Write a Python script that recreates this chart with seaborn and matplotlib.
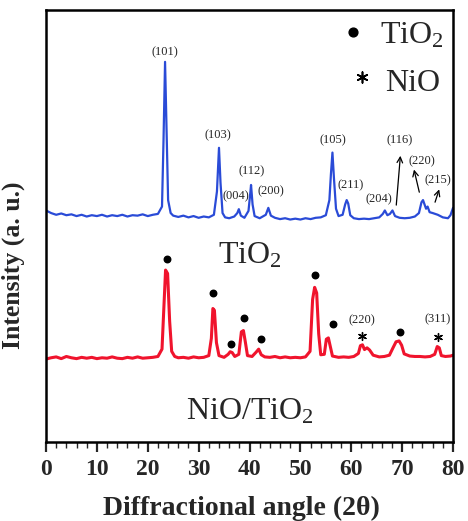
import numpy as np
import pandas as pd
import matplotlib
matplotlib.use("Agg")
import matplotlib.pyplot as plt
import seaborn as sns

# XRD traces (2theta, intensity in arbitrary units, offset)
tio2_x = [0, 1, 2, 3, 4, 5, 6, 7, 8, 9, 10, 11, 12, 13, 14, 15, 16, 17, 18, 19, 20, 21, 22,
          22.8, 23.1, 23.4, 23.7, 24.0, 24.5, 25, 26, 27, 28, 29, 30, 31, 32, 33,
          33.6, 34.0, 34.3, 34.7, 35.2, 36, 37, 37.6, 37.9, 38.3, 39,
          39.8, 40.1, 40.3, 40.6, 41.0, 42, 43.2, 43.7, 44.2, 45, 46, 47, 48, 49, 50,
          51, 52, 53, 54, 55, 55.7, 56.0, 56.3, 56.6, 57.0, 57.5, 58.3, 58.8, 59.1,
          59.4, 59.8, 60.5, 61.5, 62.5, 63.5, 64.5, 65.5, 66.2, 66.6, 67.1, 67.6, 68.1,
          68.6, 69.5, 70.5, 71.5, 72.5, 73.3, 73.8, 74.1, 74.4, 74.7, 75.0, 75.4, 76,
          77, 78, 79, 79.5, 80]
tio2_y = [53.6, 53.0, 52.6, 52.9, 52.5, 52.7, 52.3, 52.6, 52.2, 52.5, 52.3, 52.6, 52.2, 52.5,
          52.3, 52.6, 52.2, 52.5, 52.4, 52.7, 52.3, 52.6, 52.8,
          54.5, 70, 88.0, 72, 56, 53.0, 52.4, 52.1, 52.4, 52.0, 52.3, 51.9, 52.2, 52.0, 52.6,
          58, 68.1, 60, 53, 52.0, 51.8, 52.2, 53.0, 53.9, 52.4, 51.9,
          53.5, 57, 59.5, 55, 52.3, 51.8, 52.6, 54.2, 52.4, 51.9, 51.6, 51.8, 51.5, 51.7, 51.5,
          51.8, 51.6, 51.9, 52.0, 52.5, 56, 62, 67.0, 61, 54, 52.3, 52.6, 55.0, 56.0,
          55.2, 52.5, 51.8, 51.6, 51.7, 51.6, 51.8, 52.0, 52.8, 53.6, 52.5, 52.8, 53.6,
          52.3, 51.9, 51.8, 51.9, 52.2, 53, 55.5, 56.0, 55.0, 54.0, 54.5, 53.2, 53.0,
          52.6, 52.0, 51.8, 52.5, 54.2]

nio_x = [0, 1, 2, 3, 4, 5, 6, 7, 8, 9, 10, 11, 12, 13, 14, 15, 16, 17, 18, 19, 20, 21, 22,
         22.8, 23.2, 23.5, 23.9, 24.3, 24.7, 25.3, 26, 27, 28, 29, 30, 31,
         32.0, 32.5, 32.8, 33.1, 33.5, 34.0, 35, 35.8, 36.2, 36.6, 37.1, 37.9, 38.4,
         38.8, 39.2, 39.6, 40.5, 41.3, 41.8, 42.3, 43, 44, 45, 46, 47, 48, 49, 50, 51,
         51.9, 52.4, 52.8, 53.2, 53.6, 54.0, 54.7, 55.1, 55.5, 55.9, 56.3, 57.5, 58.5,
         59.5, 60.5, 61.4, 61.8, 62.2, 62.6, 63.1, 63.6, 64.3, 65.5, 66.5, 67.5, 68.2,
         68.8, 69.4, 69.9, 70.4, 71.5, 72.5, 73.5, 74.5, 75.5, 76.4, 76.9, 77.3, 77.7,
         78.5, 79.5, 80]
nio_y = [19.2, 19.5, 19.7, 19.3, 19.8, 19.5, 19.3, 19.6, 19.4, 19.6, 19.3, 19.5, 19.4, 19.7,
         19.4, 19.3, 19.6, 19.4, 19.7, 19.4, 19.5, 19.6, 19.8,
         21.5, 32, 39.8, 39.0, 28, 21, 19.8, 19.5, 19.6, 19.4, 19.7, 19.5, 19.6,
         20.0, 24, 30.9, 30.5, 23, 20.0, 19.6, 20.3, 20.9, 20.7, 19.8, 20.3, 25.5,
         25.8, 23, 20.0, 19.8, 20.8, 21.5, 20.2, 19.7, 19.6, 19.8, 19.5, 19.7, 19.5, 19.6, 19.5, 19.7,
         21, 33, 35.8, 34.5, 25, 20.2, 20.3, 23.8, 24.1, 22, 19.9, 19.6, 19.7,
         19.6, 19.8, 20.5, 22.3, 22.5, 21.4, 21.8, 21.3, 20.1, 19.7, 19.8, 20.1, 21.8,
         23.2, 23.4, 22.4, 20.4, 19.9, 19.8, 19.8, 19.7, 19.8, 20.3, 22.1, 21.8, 20.0,
         19.8, 19.9, 20.1]

# hkl labels of the TiO2 trace
hkl_labels = ["(101)", "(103)", "(004)", "(112)", "(200)", "(105)", "(211)", "(204)",
              "(116)", "(220)", "(215)"]
hkl_x = [23.4, 33.75, 37.3, 40.4, 44.2, 56.35, 59.9, 65.45, 69.6, 73.85, 77.1]
hkl_y = [90.1, 71.1, 56.8, 62.7, 58.1, 69.8, 59.5, 56.2, 69.9, 65.0, 60.6]

# arrows (tail -> head) for crowded labels
arrow_tail = [(68.8, 54.2), (73.5, 57.2), (76.3, 54.9)]
arrow_head = [(69.7, 66.9), (72.2, 63.7), (77.45, 59.1)]

# phase markers on the NiO/TiO2 trace
dot_x = [23.7, 32.9, 36.3, 39.0, 42.2, 52.9, 56.35, 69.6]
dot_y = [42.4, 34.4, 22.6, 28.6, 23.8, 38.7, 27.3, 25.5]
star_x = [62.05, 77.0]
star_y = [24.5, 24.2]
nio_labels = ["(220)", "(311)"]
nio_label_y = [28.1, 28.4]

sns.set_style("ticks")
plt.rcParams['font.family'] = ['Liberation Serif', 'DejaVu Serif']
plt.rcParams['mathtext.fontset'] = 'custom'
plt.rcParams['mathtext.rm'] = 'Liberation Serif'
plt.rcParams['mathtext.it'] = 'Liberation Serif:italic'
plt.rcParams['mathtext.bf'] = 'Liberation Serif:bold'

fig = plt.figure(figsize=(4.68, 5.21), dpi=100)
ax = fig.add_axes([0.0983, 0.1516, 0.8697, 0.8292])

sns.lineplot(x=tio2_x, y=tio2_y, ax=ax, color='#2a4bd7', linewidth=1.6, estimator=None)
sns.lineplot(x=nio_x, y=nio_y, ax=ax, color='#f0142d', linewidth=2.2, estimator=None)

for lab, x, y in zip(hkl_labels, hkl_x, hkl_y):
    ax.text(x, y, lab, fontsize=9, ha='center', va='center')
for t, h in zip(arrow_tail, arrow_head):
    ax.annotate("", xy=h, xytext=t,
                arrowprops=dict(arrowstyle='->', color='black', lw=0.9, mutation_scale=10))

ax.scatter(dot_x, dot_y, s=22, color='black', zorder=5)
ax.scatter(star_x, star_y, s=32, marker=(6, 2, 0), color='black', linewidths=1.0, zorder=5)
for lab, x, y in zip(nio_labels, star_x, nio_label_y):
    ax.text(x, y, lab, fontsize=9, ha='center', va='center')

# legend-like key
ax.scatter([60.3], [94.9], s=40, color='black')
ax.text(65.6, 92.3, r'TiO$_2$', fontsize=23, ha='left', va='baseline')
ax.scatter([62.05], [84.6], s=60, marker=(6, 2, 0), color='black', linewidths=1.2)
ax.text(66.6, 81.25, 'NiO', fontsize=23, ha='left', va='baseline')

# trace labels
ax.text(40.1, 41.4, r'TiO$_2$', fontsize=23, ha='center', va='baseline')
ax.text(40.1, 5.25, r'NiO/TiO$_2$', fontsize=23, ha='center', va='baseline')

ax.set_xlim(0, 80)
ax.set_ylim(0, 100)
ax.set_xticks(np.arange(0, 81, 10))
ax.set_xticks(np.arange(0, 81, 2), minor=True)
ax.set_yticks([])
ax.tick_params(axis='x', which='major', length=7, width=1.6, direction='out', pad=5)
ax.tick_params(axis='x', which='minor', length=4, width=1.0, direction='out')
for lab in ax.get_xticklabels():
    lab.set_fontweight('bold')
    lab.set_fontsize(17)
for sp in ax.spines.values():
    sp.set_linewidth(1.8)
    sp.set_color('black')

ax.set_xlabel('Diffractional angle (2θ)', fontsize=20, fontweight='bold')
ax.set_ylabel('Intensity (a. u.)', fontsize=18.5, fontweight='bold')
ax.xaxis.set_label_coords(0.479, -0.125)
ax.yaxis.set_label_coords(-0.052, 0.41)

fig.savefig("out.png", dpi=100)
